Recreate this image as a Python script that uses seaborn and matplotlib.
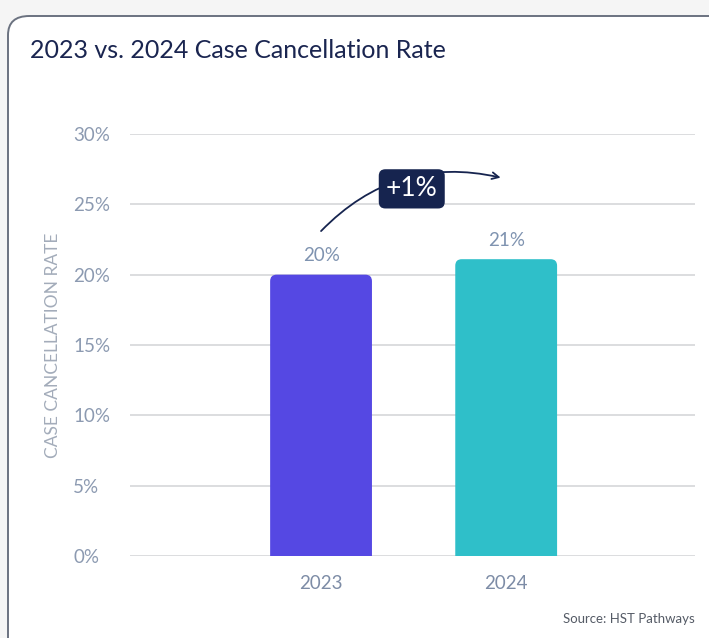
import matplotlib
matplotlib.use("Agg")
import matplotlib.pyplot as plt
import seaborn as sns
import pandas as pd
from matplotlib.patches import FancyBboxPatch

# data
years = ["2023", "2024"]
rates = [20.0, 21.1]
value_labels = ["20%", "21%"]
bar_colors = ["#5548E3", "#2FBFC9"]
y_ticks = [0, 5, 10, 15, 20, 25, 30]
change_label = "+1%"

df = pd.DataFrame({"year": years, "rate": rates})

sns.set_theme(style="white")
plt.rcParams["font.family"] = ["Lato", "DejaVu Sans"]

fig = plt.figure(figsize=(7.09, 6.38), dpi=100)
fig.patch.set_facecolor("#f5f5f5")

# white card with rounded corner, running off the right/bottom edge
card = FancyBboxPatch((8 / 709, -0.1), 1.2, (630 / 638) + 0.1 - 8 / 638,
                      boxstyle="round,pad=0,rounding_size=0.03",
                      transform=fig.transFigure, facecolor="white",
                      edgecolor="#6b7280", linewidth=1.4, zorder=-5)
fig.patches.append(card)

ax = fig.add_axes([130 / 709, 1 - 556 / 638, 565 / 709, (556 - 134) / 638])
ax.set_facecolor("none")

sns.barplot(data=df, x="year", y="rate", hue="year", palette=bar_colors,
            width=0.55, legend=False, ax=ax, saturation=1, zorder=3)

ax.set_ylim(0, 30)
ax.set_xlim(-1.032, 2.02)

# swap the square bars for ones with rounded tops (bottom hidden below 0)
aspect = (ax.get_xlim()[1] - ax.get_xlim()[0]) / 565 / ((30 - 0) / 422)
for bar in list(ax.patches):
    x0, w, h = bar.get_x(), bar.get_width(), bar.get_height()
    rounded = FancyBboxPatch((x0, -2), w, h + 2,
                             boxstyle="round,pad=0,rounding_size=0.035",
                             mutation_aspect=1 / aspect,
                             facecolor=bar.get_facecolor(), edgecolor="none",
                             zorder=3)
    bar.remove()
    ax.add_patch(rounded)

ax.set_yticks(y_ticks)
ax.set_yticklabels([f"{t}%" for t in y_ticks])
ax.grid(axis="y", color="#d9dadc", linewidth=1.3, zorder=0)
ax.set_axisbelow(True)
for s in ax.spines.values():
    s.set_visible(False)

ax.tick_params(axis="y", length=0, pad=41, labelsize=13.5, labelcolor="#8c9ab1")
for lbl in ax.get_yticklabels():
    lbl.set_horizontalalignment("left")
ax.tick_params(axis="x", length=0, pad=14, labelsize=13.5, labelcolor="#7d8ca6")
ax.set_xlabel("")
ax.set_ylabel("CASE CANCELLATION RATE", fontsize=12.5, color="#a3acba")
ax.yaxis.set_label_coords(-0.122, 0.5)

# value labels above bars
for i, (r, lab) in enumerate(zip(rates, value_labels)):
    ax.text(i, r + 0.75, lab, ha="center", va="bottom", fontsize=13.5, color="#7f93b0")

# change annotation: curved arrow with dark pill on top
ax.annotate("", xy=(0.97, 26.9), xytext=(0.0, 23.1),
            arrowprops=dict(arrowstyle="->", color="#16244f", lw=1.3,
                            connectionstyle="arc3,rad=-0.28",
                            shrinkA=0, shrinkB=0), zorder=5)
ax.text(0.49, 26.1, change_label, ha="center", va="center", fontsize=19,
        color="white", zorder=6,
        bbox=dict(boxstyle="round,pad=0.27,rounding_size=0.25",
                  facecolor="#16244f", edgecolor="none"))

fig.text(30 / 709, 1 - 50 / 638, "2023 vs. 2024 Case Cancellation Rate",
         fontsize=18, color="#1a2550", ha="left", va="center")
fig.text(695 / 709, 1 - 619 / 638, "Source: HST Pathways", fontsize=9.5,
         color="#555b66", ha="right", va="center")

fig.savefig("out.png", dpi=100, facecolor=fig.get_facecolor())
